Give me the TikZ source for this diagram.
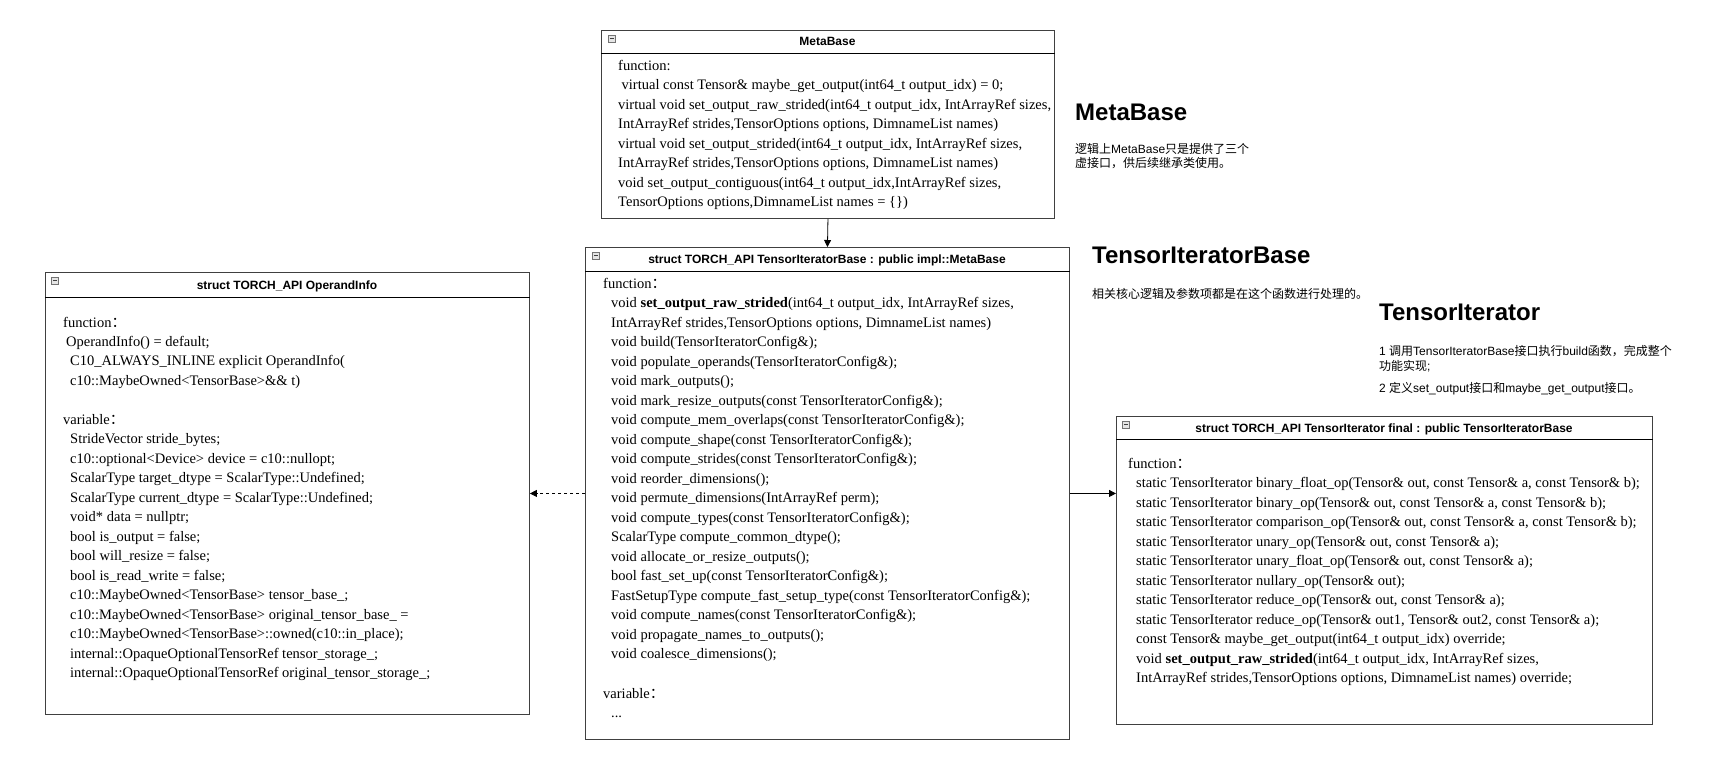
\documentclass[tikz,border=0pt]{standalone}
\usepackage{fontspec}
\setmainfont{Liberation Serif}
\newfontfamily\hdfont{Liberation Sans}
\newfontfamily\cjk{Noto Sans CJK SC}
\newcommand\zh[1]{{\cjk #1}}
\newcommand\fcolon{{\cjk ：}}
\usetikzlibrary{arrows.meta}
\begin{document}
\begin{tikzpicture}[x=1pt,y=-1pt,
  umlbox/.style={draw=black!75, line width=0.9pt, fill=white, inner sep=0pt, anchor=north west},
  hdr/.style={font=\hdfont\bfseries\fontsize{12}{14}\selectfont, anchor=base, inner sep=0pt},
  code/.style={font=\fontsize{14.5}{17}\selectfont, anchor=base west, inner sep=0pt},
  ttl/.style={font=\hdfont\bfseries\fontsize{24}{28}\selectfont, anchor=base west, inner sep=0pt},
  note/.style={font=\hdfont\fontsize{12}{14}\selectfont, anchor=base west, inner sep=0pt},
  minusicon/.style={draw=black!55, fill=black!10, minimum size=7pt, inner sep=0pt, line width=0.5pt, anchor=north west,
    path picture={\draw[black!75, line width=0.7pt] ([xshift=1.5pt]path picture bounding box.west) -- ([xshift=-1.5pt]path picture bounding box.east);}},
  conn/.style={line width=0.8pt, -{Triangle[length=7pt,width=7pt]}},
  sepline/.style={line width=0.8pt, black}
]
\fill[white] (0,0) rectangle (1710,763);
\useasboundingbox (0,0) rectangle (1710,763);

% ---------- MetaBase ----------
\node[umlbox, minimum width=453pt, minimum height=188pt] (mb) at (601,30) {};
\draw[sepline] ([yshift=-23pt]mb.north west) -- ([yshift=-23pt]mb.north east);
\node[minusicon] (mbi) at (608,35) {};
\node[hdr] (mbh) at (827.5,45) {MetaBase};
\node[code] (mbf) at (618,70) {function:};
\foreach \t [count=\i] in {
  {\hspace*{3.5pt}virtual const Tensor\& maybe\_get\_output(int64\_t output\_idx) = 0;},
  {virtual void set\_output\_raw\_strided(int64\_t output\_idx, IntArrayRef sizes,},
  {IntArrayRef strides,TensorOptions options, DimnameList names)},
  {virtual void set\_output\_strided(int64\_t output\_idx, IntArrayRef sizes,},
  {IntArrayRef strides,TensorOptions options, DimnameList names)},
  {void set\_output\_contiguous(int64\_t output\_idx,IntArrayRef sizes,},
  {TensorOptions options,DimnameList names = \{\})}}
  \node[code] (mbl\i) at (618,{70+\i*19.5}) {\t};

% ---------- TensorIteratorBase ----------
\node[umlbox, minimum width=484pt, minimum height=492pt] (tib) at (585,247) {};
\draw[sepline] ([yshift=-24pt]tib.north west) -- ([yshift=-24pt]tib.north east);
\node[minusicon] (tibi) at (592,252) {};
\node[hdr] (tibh) at (827,263) {struct TORCH\_API TensorIteratorBase : public impl::MetaBase};
\node[code] (tibf) at (603,288) {function\fcolon};
\foreach \t [count=\i] in {
  {void \textbf{set\_output\_raw\_strided}(int64\_t output\_idx, IntArrayRef sizes,},
  {IntArrayRef strides,TensorOptions options, DimnameList names)},
  {void build(TensorIteratorConfig\&);},
  {void populate\_operands(TensorIteratorConfig\&);},
  {void mark\_outputs();},
  {void mark\_resize\_outputs(const TensorIteratorConfig\&);},
  {void compute\_mem\_overlaps(const TensorIteratorConfig\&);},
  {void compute\_shape(const TensorIteratorConfig\&);},
  {void compute\_strides(const TensorIteratorConfig\&);},
  {void reorder\_dimensions();},
  {void permute\_dimensions(IntArrayRef perm);},
  {void compute\_types(const TensorIteratorConfig\&);},
  {ScalarType compute\_common\_dtype();},
  {void allocate\_or\_resize\_outputs();},
  {bool fast\_set\_up(const TensorIteratorConfig\&);},
  {FastSetupType compute\_fast\_setup\_type(const TensorIteratorConfig\&);},
  {void compute\_names(const TensorIteratorConfig\&);},
  {void propagate\_names\_to\_outputs();},
  {void coalesce\_dimensions();}}
  \node[code] (tibl\i) at (611,{288+\i*19.5}) {\t};
\node[code] (tibv) at (603,698) {variable\fcolon};
\node[code] (tibd) at (611,717) {...};

% ---------- OperandInfo ----------
\node[umlbox, minimum width=484pt, minimum height=442pt] (oi) at (45,272) {};
\draw[sepline] ([yshift=-25pt]oi.north west) -- ([yshift=-25pt]oi.north east);
\node[minusicon] (oii) at (51,277) {};
\node[hdr] (oih) at (287,289) {struct TORCH\_API OperandInfo};
\node[code] (oif) at (63,327) {function\fcolon};
\node[code] (oil1) at (66,346) {OperandInfo() = default;};
\node[code] (oil2) at (70,365.5) {C10\_ALWAYS\_INLINE explicit OperandInfo(};
\node[code] (oil3) at (70,385) {c10::MaybeOwned<TensorBase>\&\& t)};
\node[code] (oiv) at (63,424) {variable\fcolon};
\foreach \t [count=\i] in {
  {StrideVector stride\_bytes;},
  {c10::optional<Device> device = c10::nullopt;},
  {ScalarType target\_dtype = ScalarType::Undefined;},
  {ScalarType current\_dtype = ScalarType::Undefined;},
  {void* data = nullptr;},
  {bool is\_output = false;},
  {bool will\_resize = false;},
  {bool is\_read\_write = false;},
  {c10::MaybeOwned<TensorBase> tensor\_base\_;},
  {c10::MaybeOwned<TensorBase> original\_tensor\_base\_ =},
  {c10::MaybeOwned<TensorBase>::owned(c10::in\_place);},
  {internal::OpaqueOptionalTensorRef tensor\_storage\_;},
  {internal::OpaqueOptionalTensorRef original\_tensor\_storage\_;}}
  \node[code] (oivl\i) at (70,{424+\i*19.5}) {\t};

% ---------- TensorIterator ----------
\node[umlbox, minimum width=536pt, minimum height=308pt] (ti) at (1116,416) {};
\draw[sepline] ([yshift=-23pt]ti.north west) -- ([yshift=-23pt]ti.north east);
\node[minusicon] (tii) at (1122,421) {};
\node[hdr] (tih) at (1384,432) {struct TORCH\_API TensorIterator final : public TensorIteratorBase};
\node[code] (tif) at (1128,468) {function\fcolon};
\foreach \t [count=\i] in {
  {static TensorIterator binary\_float\_op(Tensor\& out, const Tensor\& a, const Tensor\& b);},
  {static TensorIterator binary\_op(Tensor\& out, const Tensor\& a, const Tensor\& b);},
  {static TensorIterator comparison\_op(Tensor\& out, const Tensor\& a, const Tensor\& b);},
  {static TensorIterator unary\_op(Tensor\& out, const Tensor\& a);},
  {static TensorIterator unary\_float\_op(Tensor\& out, const Tensor\& a);},
  {static TensorIterator nullary\_op(Tensor\& out);},
  {static TensorIterator reduce\_op(Tensor\& out, const Tensor\& a);},
  {static TensorIterator reduce\_op(Tensor\& out1, Tensor\& out2, const Tensor\& a);},
  {const Tensor\& maybe\_get\_output(int64\_t output\_idx) override;},
  {void \textbf{set\_output\_raw\_strided}(int64\_t output\_idx, IntArrayRef sizes,},
  {IntArrayRef strides,TensorOptions options, DimnameList names) override;}}
  \node[code] (til\i) at (1136,{468+\i*19.5}) {\t};

% ---------- annotations ----------
\node[ttl] (t1) at (1075,120) {MetaBase};
\node[note] (n1a) at (1075,153) {\zh{逻辑上}MetaBase\zh{只是提供了三个}};
\node[note] (n1b) at (1075,167) {\zh{虚接口，供后续继承类使用。}};
\node[ttl] (t2) at (1092,263) {TensorIteratorBase};
\node[note] (n2a) at (1092,298) {\zh{相关核心逻辑及参数项都是在这个函数进行处理的。}};
\node[ttl] (t3) at (1379,320) {TensorIterator};
\node[note] (n3a) at (1379,355) {1 \zh{调用}TensorIteratorBase\zh{接口执行}build\zh{函数，完成整个}};
\node[note] (n3b) at (1379,370) {\zh{功能实现};};
\node[note] (n3c) at (1379,392) {2 \zh{定义}set\_output\zh{接口和}maybe\_get\_output\zh{接口。}};

% ---------- connectors ----------
\draw[conn] (mb.south) -- (tib.north);
\draw[conn, dashed] (tib.west) -- (oi.east |- tib.west);
\draw[conn] (tib.east) -- (ti.west |- tib.east);
\end{tikzpicture}
\end{document}
